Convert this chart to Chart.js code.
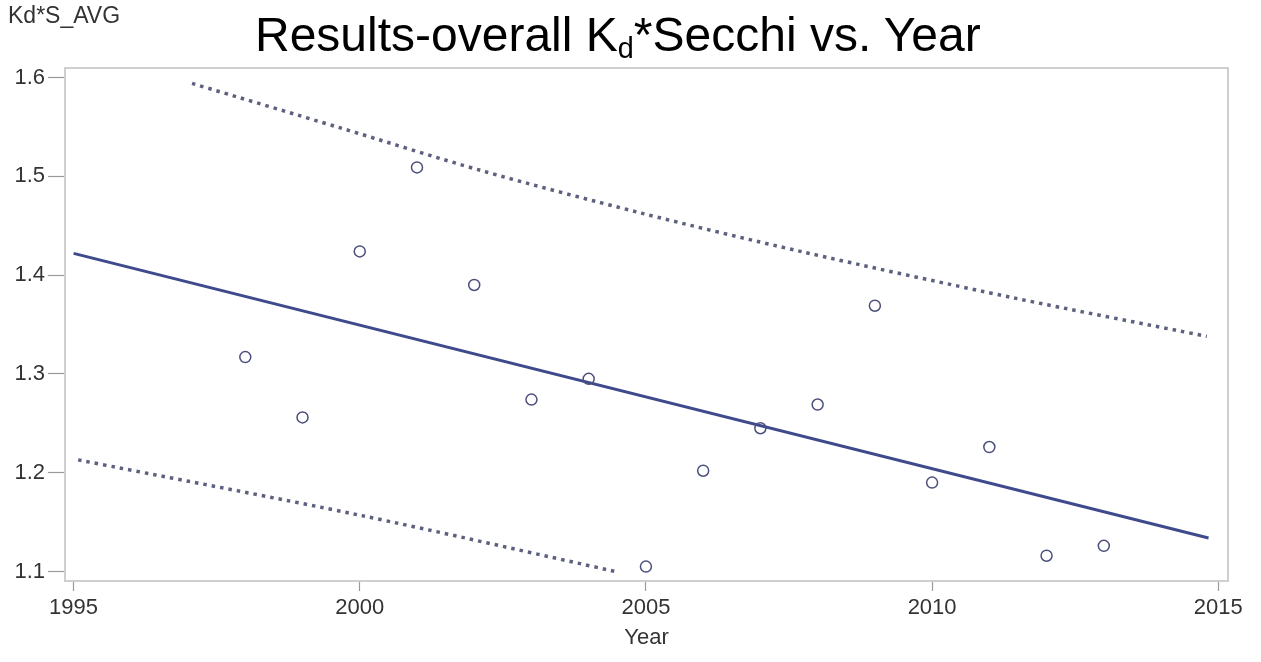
<!DOCTYPE html>
<html>
<head>
<meta charset="utf-8">
<script src="https://cdn.jsdelivr.net/npm/chart.js@4"></script>
<style>
  body { margin: 0; background: #fff; }
  #wrap { position: relative; width: 1261px; height: 662px; }
  #title {
    position: absolute; left: 255px; top: 7px;
    font-family: "Liberation Sans", Arial, sans-serif; font-size: 48px; color: #000;
    white-space: nowrap;
  }
  #title sub { font-size: 0.6em; vertical-align: -0.25em; line-height: 0; }
  #ylab {
    position: absolute; left: 8px; top: 2px;
    font-family: "Liberation Sans", Arial, sans-serif; font-size: 23px; color: #333;
  }
</style>
</head>
<body>
<div id="wrap">
  <canvas id="chart" width="1261" height="662"></canvas>
  <div id="title">Results-overall K<sub>d</sub>*Secchi vs. Year</div>
  <div id="ylab">Kd*S_AVG</div>
</div>
<script>
// observed values
const years = [1998, 1999, 2000, 2001, 2002, 2003, 2004, 2005, 2006, 2007, 2008, 2009, 2010, 2011, 2012, 2013];
const kdS = [1.317, 1.256, 1.424, 1.509, 1.390, 1.274, 1.295, 1.105, 1.202, 1.245, 1.269, 1.369, 1.190, 1.226, 1.116, 1.126];

// regression fit line
const fitX = [1995, 2014.83];
const fitY = [1.422, 1.134];

// prediction limits (dotted)
const upperX = [1997.07, 1999.66, 2002.11, 2004.90, 2007.70, 2011.42, 2014.80];
const upperY = [1.594, 1.549, 1.506, 1.463, 1.424, 1.377, 1.338];
const lowerX = [1995.08, 2000.0, 2004.47];
const lowerY = [1.213, 1.157, 1.100];

const xTicks = [1995, 2000, 2005, 2010, 2015];
const yTicks = [1.1, 1.2, 1.3, 1.4, 1.5, 1.6];

const pairs = (xs, ys) => xs.map((x, i) => ({ x: x, y: ys[i] }));

const frame = {
  id: 'frame',
  beforeDatasetsDraw(chart) {
    const a = chart.chartArea, ctx = chart.ctx;
    ctx.save();
    ctx.strokeStyle = '#cfcfcf';
    ctx.lineWidth = 2;
    ctx.strokeRect(a.left, a.top, a.right - a.left, a.bottom - a.top);
    ctx.restore();
  }
};

const tickFont = { family: '"Liberation Sans", Arial, sans-serif', size: 22 };

new Chart(document.getElementById('chart').getContext('2d'), {
  type: 'scatter',
  data: {
    datasets: [
      {
        label: 'Kd*S_AVG',
        data: pairs(years, kdS),
        pointStyle: 'circle',
        pointRadius: 5.5,
        pointBorderWidth: 1.5,
        pointBorderColor: '#4b4f7c',
        pointBackgroundColor: 'rgba(0,0,0,0)',
        showLine: false
      },
      {
        label: 'Fit',
        data: pairs(fitX, fitY),
        showLine: true,
        borderColor: '#3e4a8c',
        borderWidth: 3,
        pointRadius: 0
      },
      {
        label: 'Upper',
        data: pairs(upperX, upperY),
        showLine: true,
        borderColor: '#5d607e',
        borderWidth: 3.5,
        borderDash: [3.5, 5],
        tension: 0.3,
        pointRadius: 0
      },
      {
        label: 'Lower',
        data: pairs(lowerX, lowerY),
        showLine: true,
        borderColor: '#5d607e',
        borderWidth: 3.5,
        borderDash: [3.5, 5],
        tension: 0.3,
        pointRadius: 0
      }
    ]
  },
  options: {
    responsive: false,
    animation: false,
    devicePixelRatio: 1,
    layout: { padding: { top: 68, right: 33, left: 0, bottom: 0 } },
    plugins: {
      legend: { display: false },
      title: { display: false },
      tooltip: { enabled: false }
    },
    scales: {
      x: {
        type: 'linear',
        min: 1994.85,
        max: 2015.17,
        afterBuildTicks: s => { s.ticks = xTicks.map(v => ({ value: v })); },
        afterFit: s => { s.height = 81; },
        ticks: { color: '#333', font: tickFont, padding: 4, maxRotation: 0, callback: v => String(v) },
        grid: { drawOnChartArea: false, drawTicks: true, tickLength: 10, tickColor: '#9a9a9a', tickWidth: 1.2 },
        border: { display: false },
        title: { display: true, text: 'Year', color: '#333', font: tickFont, padding: { top: 2, bottom: 11 } }
      },
      y: {
        type: 'linear',
        min: 1.0904,
        max: 1.6096,
        afterBuildTicks: s => { s.ticks = yTicks.map(v => ({ value: v })); },
        afterFit: s => { s.width = 65; },
        ticks: { color: '#333', font: tickFont, padding: 3, callback: v => v.toFixed(1) },
        grid: { drawOnChartArea: false, drawTicks: true, tickLength: 17, tickColor: '#9a9a9a', tickWidth: 1.2 },
        border: { display: false }
      }
    }
  },
  plugins: [frame]
});
</script>
</body>
</html>
